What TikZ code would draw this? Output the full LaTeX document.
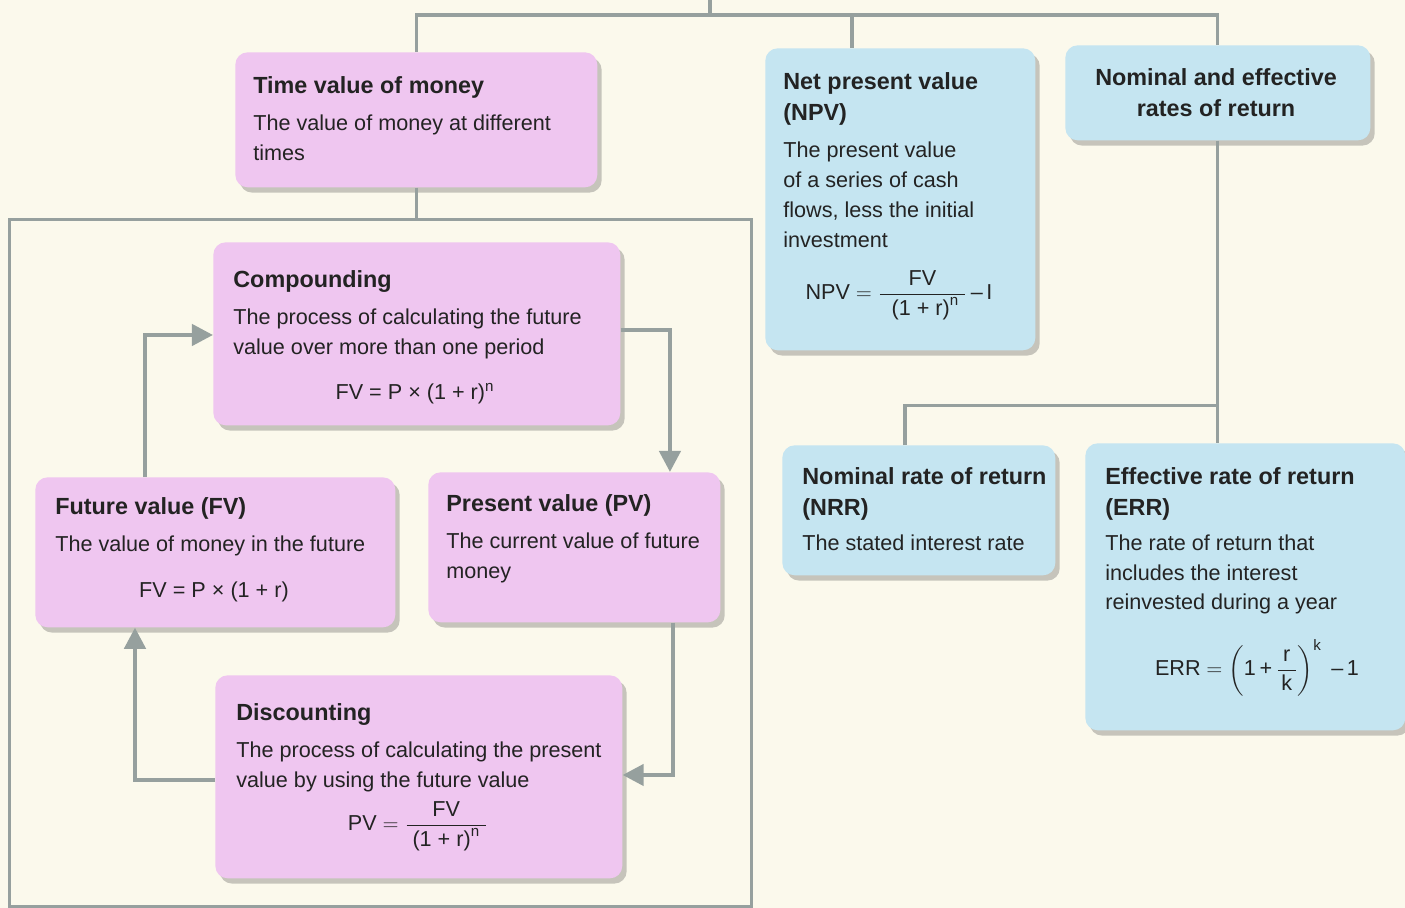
\documentclass[tikz,border=0pt]{standalone}
\usepackage{fontspec}
\setmainfont{Liberation Sans}
\usepackage{amsmath}
\usetikzlibrary{arrows.meta,shadows}

\definecolor{paper}{RGB}{251,249,236}
\definecolor{pinkfill}{RGB}{239,198,240}
\definecolor{bluefill}{RGB}{197,229,241}
\definecolor{wire}{RGB}{150,160,158}
\definecolor{ink}{RGB}{35,35,35}

\newcommand\bodyfont{\fontsize{12.3pt}{17pt}\selectfont}
\newcommand\headfont{\fontsize{13.3pt}{18pt}\selectfont\bfseries}

\tikzset{
  card/.style={anchor=north west, rounded corners=7pt, inner sep=0pt,
    drop shadow={shadow xshift=2.5pt, shadow yshift=-3pt, opacity=0.3, fill=black!70}},
  pinkcard/.style={card, fill=pinkfill},
  bluecard/.style={card, fill=bluefill},
  txt/.style={anchor=north west, inner sep=0pt, align=left, font=\bodyfont, text=ink},
  formula/.style={inner sep=0pt, font=\bodyfont, text=ink},
  link/.style={draw=wire, line width=1.8pt},
  flow/.style={draw=wire, line width=2.4pt, -{Triangle[length=12pt,width=12pt]}},
}

\begin{document}
\begin{tikzpicture}[x=0.02cm, y=-0.02cm]
    \fill[paper] (0,0) rectangle (1405,908);
    \useasboundingbox (0,0) rectangle (1405,908);

    % frame round the time value group
    \node[draw=wire, line width=1.6pt, anchor=north west, inner sep=0pt,
      minimum width=14.84cm, minimum height=13.74cm] (frame) at (8,218) {};

    \coordinate (root) at (710,0);
    \coordinate (bus) at (710,15);

    % cards
    \node[pinkcard, minimum width=7.24cm, minimum height=2.70cm] (tvm) at (235,52) {};
    \node[bluecard, minimum width=5.40cm, minimum height=6.04cm] (npv) at (765,48) {};
    \node[bluecard, minimum width=6.10cm, minimum height=1.90cm] (nom) at (1065,45) {};
    \node[pinkcard, minimum width=8.14cm, minimum height=3.66cm] (comp) at (213,242) {};
    \node[pinkcard, minimum width=7.20cm, minimum height=3.00cm] (fv) at (35,477) {};
    \node[pinkcard, minimum width=5.84cm, minimum height=3.00cm] (pv) at (428,472) {};
    \node[pinkcard, minimum width=8.14cm, minimum height=4.06cm] (disc) at (215,675) {};
    \node[bluecard, minimum width=5.46cm, minimum height=2.60cm] (nrr) at (782,445) {};
    \node[bluecard, minimum width=6.40cm, minimum height=5.74cm] (err) at (1085,443) {};

    \coordinate (fork) at ([yshift=-5.3cm]nom.south);

    % tree lines
    \draw[link] (root) -- (bus);
    \draw[link] (tvm.north) |- (bus) -| (nom.north);
    \draw[link] ([xshift=1.74cm]npv.north west) |- (bus);
    \draw[link] (tvm.south) -- (tvm.south |- frame.north);
    \draw[link] (nom.south) -- (nom.south |- err.north);
    \draw[link] ([xshift=2.46cm]nrr.north west) |- (fork);

    % cycle arrows
    \draw[flow] ([xshift=2.2cm]fv.north west) |- ([yshift=-1.86cm]comp.north west);
    \draw[flow] ([yshift=-1.76cm]comp.north east) -| ([xshift=4.84cm]pv.north west);
    \draw[flow] ([xshift=4.9cm]pv.south west) |- ([yshift=-2cm]disc.north east);
    \draw[flow] ([yshift=-2.1cm]disc.north west) -| ([xshift=2cm]fv.south west);

    % texts
    \node[txt] (tvm-t) at (253,76) {{\headfont Time value of money}\\[4pt]
      The value of money at different\\ times};
    \node[txt] (npv-t) at (783,72) {{\headfont Net present value}\\[1pt]{\headfont (NPV)}\\[4pt]
      The present value\\ of a series of cash\\ flows, less the initial\\ investment};
    \node[formula] (npv-f) at (899,295)
      {$\text{NPV} = \dfrac{\text{FV}}{\;\;\text{(1 + r)}^{\text{n}}\;}\text{\,--\,I}$};
    \node[txt, anchor=north, align=center] (nom-t) at (1216,68)
      {{\headfont Nominal and effective}\\[1pt]{\headfont rates of return}};
    \node[txt] (comp-t) at (233,270) {{\headfont Compounding}\\[4pt]
      The process of calculating the future\\ value over more than one period};
    \node[formula, anchor=base] (comp-f) at (415,399) {FV = P × (1 + r)\textsuperscript{n}};
    \node[txt] (fv-t) at (55,497) {{\headfont Future value (FV)}\\[4pt]
      The value of money in the future};
    \node[formula, anchor=base] (fv-f) at (214,597) {FV = P × (1 + r)};
    \node[txt] (pv-t) at (446,494) {{\headfont Present value (PV)}\\[4pt]
      The current value of future\\ money};
    \node[txt] (disc-t) at (236,703) {{\headfont Discounting}\\[4pt]
      The process of calculating the present\\ value by using the future value};
    \node[formula] (disc-f) at (418,826)
      {$\text{PV} = \dfrac{\text{FV}}{\;\text{(1 + r)}^{\text{n}}\;}$};
    \node[txt] (nrr-t) at (802,467) {{\headfont Nominal rate of return}\\[0.5pt]{\headfont (NRR)}\\[3pt]
      The stated interest rate};
    \node[txt] (err-t) at (1105,467) {{\headfont Effective rate of return}\\[0.5pt]{\headfont (ERR)}\\[3pt]
      The rate of return that\\ includes the interest\\ reinvested during a year};
    \node[formula] (err-f) at (1257,668)
      {$\text{ERR} = \biggl(\text{1\,+\,}\dfrac{\,\text{r}\,}{\,\text{k}\,}\biggr)^{\text{k}}\text{ \,--\,1}$};
\end{tikzpicture}
\end{document}
